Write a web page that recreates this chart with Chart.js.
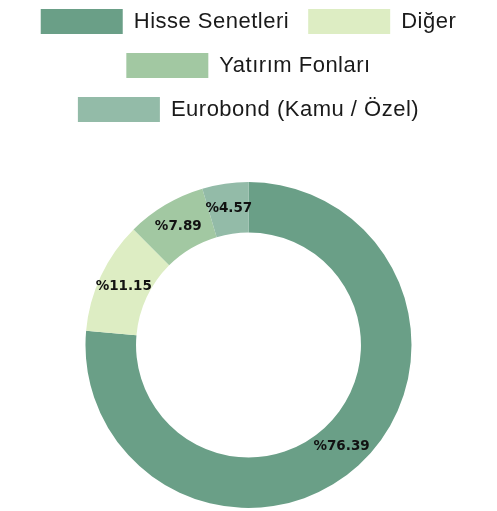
<!DOCTYPE html>
<html>
<head>
<meta charset="utf-8">
<script src="https://cdn.jsdelivr.net/npm/chart.js@4"></script>
<style>
  html, body { margin: 0; padding: 0; background: #fff; }
  #wrap { width: 497px; height: 511px; }
</style>
</head>
<body>
<div id="wrap"><canvas id="portfoyChart"></canvas></div>
<script>
// Portfolio breakdown
const labels = ["Hisse Senetleri", "Diğer", "Yatırım Fonları", "Eurobond (Kamu / Özel)"];
const shares = [76.39, 11.15, 7.89, 4.57];
const colors = ["#6a9f87", "#ddedc3", "#a2c8a2", "#93bba8"];

// draw "%xx.xx" at the middle of each slice
const sliceLabels = {
  id: "sliceLabels",
  afterDatasetsDraw(chart) {
    const ctx = chart.ctx;
    const meta = chart.getDatasetMeta(0);
    ctx.save();
    ctx.font = "bold 13.5px 'DejaVu Sans'";
    ctx.fillStyle = "#111";
    ctx.textAlign = "center";
    ctx.textBaseline = "middle";
    meta.data.forEach((arc, i) => {
      const p = arc.tooltipPosition();
      ctx.fillText("%" + shares[i].toFixed(2), p.x, p.y);
    });
    ctx.restore();
  }
};

// legend takes a fixed block at the top, text a bit wider
const legendHeight = {
  id: "legendHeight",
  beforeInit(chart) {
    const fit = chart.legend.fit;
    chart.legend.fit = function () {
      this.ctx.letterSpacing = "0.5px";
      fit.call(this);
      this.height = 192;
    };
  },
  beforeDraw(chart) { chart.ctx.letterSpacing = "0.5px"; },
  beforeDatasetsDraw(chart) { chart.ctx.letterSpacing = "0px"; }
};

new Chart(document.getElementById("portfoyChart"), {
  type: "doughnut",
  data: {
    labels: labels,
    datasets: [{
      data: shares,
      backgroundColor: colors,
      borderWidth: 0
    }]
  },
  options: {
    responsive: true,
    maintainAspectRatio: false,
    animation: false,
    cutout: "69%",
    layout: { padding: { top: -10, bottom: 3 } },
    plugins: {
      legend: {
        position: "top",
        labels: {
          color: "#1a1a1a",
          font: { family: "'Liberation Sans', Arial, sans-serif", size: 22 },
          boxWidth: 82,
          boxHeight: 25,
          padding: 19
        }
      },
      tooltip: { enabled: false }
    }
  },
  plugins: [sliceLabels, legendHeight]
});
</script>
</body>
</html>
